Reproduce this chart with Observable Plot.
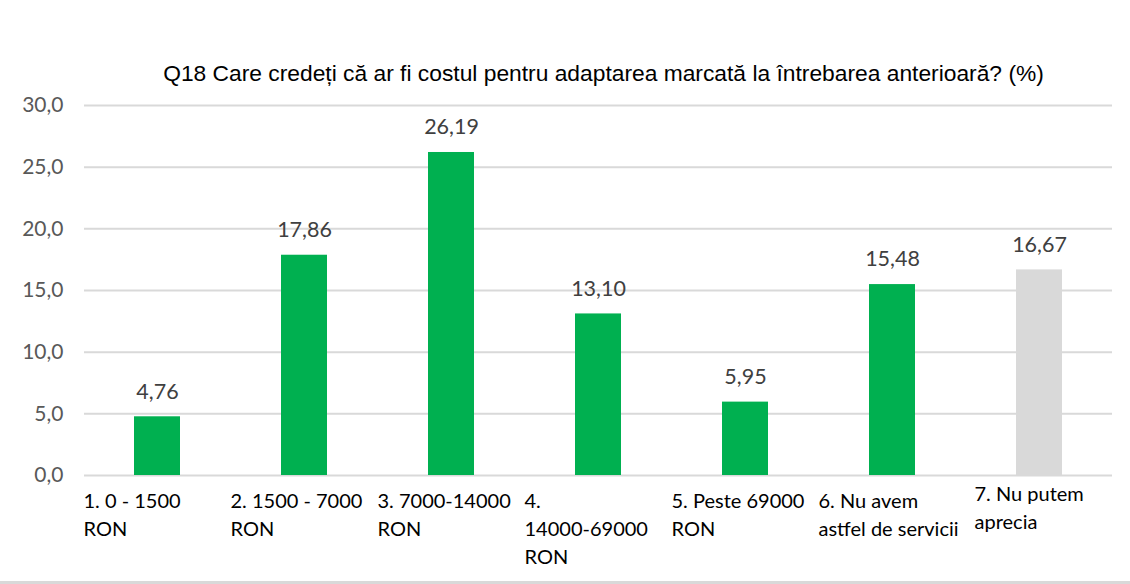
<!DOCTYPE html>
<html>
<head>
<meta charset="utf-8">
<script src="https://cdn.jsdelivr.net/npm/d3@7"></script>
<script src="https://cdn.jsdelivr.net/npm/@observablehq/plot@0.6"></script>
<style>
  html, body { margin: 0; padding: 0; background: #fff; }
  #chart svg { display: block; }
  #bottomline { height: 3px; background: #d9d9d9; width: 1130px; }
</style>
</head>
<body>
<div id="chart"></div>
<div id="bottomline"></div>
<script>
const title = "Q18 Care credeți că ar fi costul pentru adaptarea marcată la întrebarea anterioară? (%)";
const categories = [
  "1. 0 - 1500\nRON",
  "2. 1500 - 7000\nRON",
  "3. 7000-14000\nRON",
  "4.\n14000-69000\nRON",
  "5. Peste 69000\nRON",
  "6. Nu avem\nastfel de servicii",
  "7. Nu putem\naprecia"
];
const values = [4.76, 17.86, 26.19, 13.10, 5.95, 15.48, 16.67];
const colors = ["#00B050", "#00B050", "#00B050", "#00B050", "#00B050", "#00B050", "#D9D9D9"];
const yTicks = [0, 5, 10, 15, 20, 25, 30];

const data = categories.map((c, i) => ({cat: c, value: values[i], color: colors[i], last: i === categories.length - 1}));
const comma = (f) => (v) => d3.format(f)(v).replace(".", ",");
const labelFont = "Lato, 'Open Sans', sans-serif";

const chart = Plot.plot({
  width: 1130,
  height: 581,
  marginTop: 105,
  marginBottom: 106,
  marginLeft: 84,
  marginRight: 18,
  style: {fontFamily: labelFont, fontSize: "20px", background: "#fff"},
  x: {domain: categories, paddingInner: 0.686, paddingOuter: 0.33, axis: null},
  y: {domain: [0, 30], axis: null},
  marks: [
    Plot.gridY(yTicks, {stroke: "#d9d9d9", strokeOpacity: 1, strokeWidth: 2}),
    Plot.barY(data, {x: "cat", y: "value", fill: "color"}),
    Plot.text(data, {x: "cat", y: "value", text: d => comma(".2f")(d.value), dy: -25, fill: "#404040", fontSize: 21.5}),
    Plot.text(yTicks, {y: d => d, text: comma(".1f"), frameAnchor: "left", textAnchor: "end", dx: -21, fill: "#595959", fontSize: 21}),
    Plot.text(data, {filter: d => !d.last, x: "cat", y: 0, text: "cat", textAnchor: "start", lineAnchor: "top", dx: -74, dy: 13, lineHeight: 1.4, fill: "#000", fontSize: 20}),
    Plot.text(data, {filter: d => d.last, x: "cat", y: 0, text: "cat", textAnchor: "start", lineAnchor: "top", dx: -65, dy: 6, lineHeight: 1.4, fill: "#000", fontSize: 20}),
    Plot.text([title], {frameAnchor: "top", dy: -41, dx: 5, fontFamily: "Arial, 'Liberation Sans', sans-serif", fontSize: 22.8, fill: "#000"})
  ]
});
document.getElementById("chart").append(chart);
</script>
</body>
</html>
